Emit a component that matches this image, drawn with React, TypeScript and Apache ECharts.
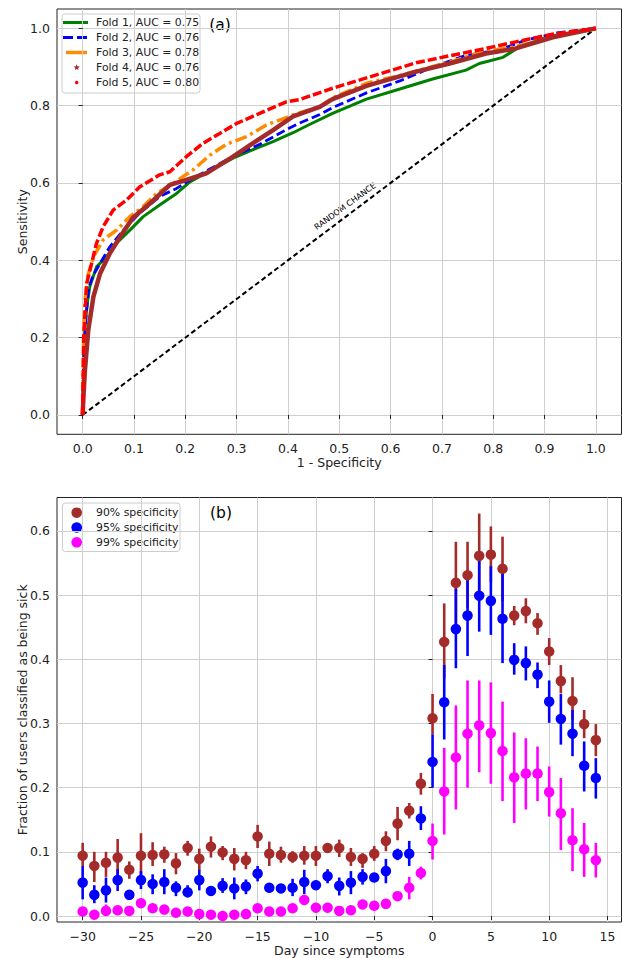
import React, { useEffect, useRef } from 'react';
import * as echarts from 'echarts';

// ---------- Panel (a): ROC curves ----------
const FOLD_NAMES = [
  'Fold 1, AUC = 0.75',
  'Fold 2, AUC = 0.76',
  'Fold 3, AUC = 0.78',
  'Fold 4, AUC = 0.76',
  'Fold 5, AUC = 0.80',
];

const fold1: number[][] = [
  [0, 0], [0.002, 0.12], [0.0045, 0.228], [0.009, 0.29], [0.014, 0.332], [0.027, 0.383],
  [0.047, 0.41], [0.066, 0.444], [0.092, 0.478], [0.118, 0.513], [0.15, 0.543], [0.183, 0.573],
  [0.209, 0.603], [0.248, 0.632], [0.293, 0.664], [0.339, 0.69], [0.371, 0.707], [0.41, 0.73],
  [0.44, 0.75], [0.487, 0.78], [0.553, 0.817], [0.618, 0.843], [0.682, 0.869], [0.747, 0.892],
  [0.773, 0.909], [0.819, 0.925], [0.851, 0.952], [0.909, 0.979], [1, 1],
];
const fold2: number[][] = [
  [0, 0], [0.002, 0.15], [0.0065, 0.254], [0.012, 0.33], [0.02, 0.36], [0.034, 0.392],
  [0.053, 0.435], [0.079, 0.478], [0.111, 0.522], [0.15, 0.565], [0.183, 0.586], [0.215, 0.612],
  [0.248, 0.636], [0.293, 0.668], [0.345, 0.7], [0.397, 0.738], [0.423, 0.755], [0.462, 0.777],
  [0.487, 0.795], [0.553, 0.833], [0.618, 0.864], [0.682, 0.9], [0.747, 0.93], [0.812, 0.944],
  [0.864, 0.97], [0.928, 0.989], [1, 1],
];
const fold3: number[][] = [
  [0, 0], [0.002, 0.2], [0.0045, 0.297], [0.01, 0.36], [0.021, 0.409], [0.04, 0.453],
  [0.066, 0.478], [0.092, 0.513], [0.118, 0.539], [0.144, 0.573], [0.176, 0.599], [0.215, 0.634],
  [0.248, 0.672], [0.28, 0.7], [0.319, 0.72], [0.358, 0.75], [0.41, 0.776], [0.462, 0.797],
  [0.487, 0.82], [0.553, 0.858], [0.618, 0.878], [0.715, 0.913], [0.779, 0.939], [0.844, 0.953],
  [0.916, 0.978], [1, 1],
];
const fold4: number[][] = [
  [0, 0], [0.002, 0.06], [0.0045, 0.116], [0.011, 0.22], [0.021, 0.306], [0.034, 0.366],
  [0.053, 0.418], [0.073, 0.461], [0.098, 0.51], [0.131, 0.547], [0.17, 0.595], [0.202, 0.608],
  [0.241, 0.625], [0.293, 0.668], [0.332, 0.703], [0.371, 0.737], [0.41, 0.772], [0.462, 0.797],
  [0.487, 0.817], [0.553, 0.851], [0.65, 0.888], [0.715, 0.909], [0.786, 0.935], [0.844, 0.948],
  [0.916, 0.977], [1, 1],
];
const fold5: number[][] = [
  [0, 0], [0.002, 0.2], [0.0078, 0.34], [0.0175, 0.392], [0.027, 0.444], [0.04, 0.487],
  [0.0595, 0.53], [0.0856, 0.556], [0.1115, 0.59], [0.15, 0.621], [0.17, 0.629], [0.202, 0.668],
  [0.235, 0.703], [0.267, 0.728], [0.3, 0.754], [0.345, 0.78], [0.397, 0.81], [0.423, 0.816],
  [0.487, 0.845], [0.571, 0.879], [0.65, 0.911], [0.708, 0.927], [0.786, 0.948], [0.844, 0.965],
  [0.916, 0.985], [1, 1],
];
const CHANCE_LINE: number[][] = [[0, 0], [1, 1]];
const ROC_X_TICKS = [0, 0.1, 0.2, 0.3, 0.4, 0.5, 0.6, 0.7, 0.8, 0.9, 1.0];
const ROC_Y_TICKS = [0, 0.2, 0.4, 0.6, 0.8, 1.0];

// ---------- Panel (b): fraction classified as sick ----------
const SPEC_NAMES = ['90% specificity', '95% specificity', '99% specificity'];
const DAYS = [
  -30, -29, -28, -27, -26, -25, -24, -23, -22, -21, -20, -19, -18, -17, -16,
  -15, -14, -13, -12, -11, -10, -9, -8, -7, -6, -5, -4, -3, -2, -1,
  0, 1, 2, 3, 4, 5, 6, 7, 8, 9, 10, 11, 12, 13, 14,
];
const DAY_TICKS = [-30, -25, -20, -15, -10, -5, 0, 5, 10, 15];
const FRAC_TICKS = [0, 0.1, 0.2, 0.3, 0.4, 0.5, 0.6];

const mean90 = [
  0.094, 0.078, 0.083, 0.091, 0.072, 0.094, 0.095, 0.096, 0.082, 0.106, 0.089, 0.108, 0.099, 0.089, 0.087,
  0.124, 0.097, 0.095, 0.092, 0.094, 0.094, 0.106, 0.106, 0.092, 0.089, 0.097, 0.117, 0.144, 0.164, 0.206,
  0.308, 0.427, 0.519, 0.531, 0.561, 0.563, 0.541, 0.468, 0.475, 0.456, 0.412, 0.366, 0.335, 0.299, 0.274,
];
const low90 = [
  0.078, 0.053, 0.061, 0.062, 0.058, 0.061, 0.078, 0.083, 0.065, 0.094, 0.071, 0.091, 0.087, 0.071, 0.073,
  0.106, 0.078, 0.083, 0.083, 0.08, 0.078, 0.1, 0.092, 0.078, 0.075, 0.086, 0.101, 0.118, 0.152, 0.189,
  0.283, 0.37, 0.455, 0.48, 0.5, 0.52, 0.49, 0.453, 0.456, 0.438, 0.391, 0.347, 0.306, 0.277, 0.249,
];
const high90 = [
  0.114, 0.1, 0.1, 0.12, 0.085, 0.129, 0.115, 0.108, 0.098, 0.117, 0.105, 0.124, 0.109, 0.106, 0.1,
  0.142, 0.116, 0.108, 0.101, 0.109, 0.109, 0.112, 0.119, 0.106, 0.098, 0.109, 0.132, 0.17, 0.176, 0.223,
  0.346, 0.487, 0.583, 0.583, 0.627, 0.607, 0.591, 0.483, 0.495, 0.472, 0.433, 0.391, 0.372, 0.321, 0.299,
];
const mean95 = [
  0.052, 0.033, 0.04, 0.056, 0.033, 0.056, 0.05, 0.053, 0.044, 0.037, 0.056, 0.039, 0.047, 0.043, 0.046,
  0.066, 0.044, 0.043, 0.044, 0.053, 0.048, 0.062, 0.047, 0.052, 0.061, 0.06, 0.07, 0.096, 0.097, 0.152,
  0.24, 0.333, 0.447, 0.468, 0.499, 0.491, 0.463, 0.399, 0.394, 0.376, 0.334, 0.307, 0.284, 0.234, 0.215,
];
const low95 = [
  0.026, 0.02, 0.021, 0.039, 0.027, 0.042, 0.034, 0.034, 0.031, 0.029, 0.04, 0.033, 0.036, 0.026, 0.034,
  0.054, 0.037, 0.036, 0.031, 0.034, 0.041, 0.051, 0.032, 0.034, 0.049, 0.053, 0.051, 0.087, 0.078, 0.134,
  0.2, 0.275, 0.386, 0.405, 0.443, 0.438, 0.394, 0.376, 0.367, 0.355, 0.301, 0.267, 0.249, 0.194, 0.183,
];
const high95 = [
  0.078, 0.048, 0.06, 0.073, 0.04, 0.07, 0.065, 0.073, 0.054, 0.048, 0.072, 0.046, 0.059, 0.06, 0.057,
  0.078, 0.05, 0.049, 0.058, 0.072, 0.055, 0.073, 0.06, 0.07, 0.073, 0.067, 0.089, 0.105, 0.117, 0.171,
  0.283, 0.391, 0.51, 0.526, 0.555, 0.545, 0.534, 0.425, 0.42, 0.395, 0.367, 0.346, 0.321, 0.272, 0.246,
];
const mean99 = [
  0.007, 0.002, 0.008, 0.009, 0.008, 0.02, 0.012, 0.01, 0.005, 0.007, 0.003, 0.002, 0.0, 0.002, 0.003,
  0.012, 0.007, 0.007, 0.012, 0.025, 0.013, 0.013, 0.008, 0.009, 0.018, 0.016, 0.019, 0.031, 0.044, 0.067,
  0.117, 0.194, 0.247, 0.284, 0.297, 0.285, 0.257, 0.216, 0.222, 0.222, 0.193, 0.16, 0.118, 0.104, 0.087,
];
const low99 = [
  0.0, 0.0, 0.0, 0.004, 0.004, 0.014, 0.007, 0.005, 0.001, 0.002, 0.0, 0.0, 0.0, 0.0, 0.0,
  0.007, 0.003, 0.003, 0.007, 0.018, 0.008, 0.008, 0.003, 0.004, 0.012, 0.01, 0.013, 0.024, 0.026, 0.057,
  0.088, 0.127, 0.166, 0.2, 0.224, 0.206, 0.179, 0.145, 0.166, 0.179, 0.155, 0.103, 0.07, 0.061, 0.06,
];
const high99 = [
  0.013, 0.006, 0.018, 0.014, 0.012, 0.026, 0.017, 0.015, 0.009, 0.012, 0.006, 0.005, 0.003, 0.005, 0.006,
  0.017, 0.011, 0.011, 0.017, 0.032, 0.018, 0.018, 0.013, 0.014, 0.024, 0.022, 0.025, 0.038, 0.061, 0.077,
  0.144, 0.262, 0.328, 0.367, 0.367, 0.364, 0.334, 0.286, 0.277, 0.264, 0.233, 0.215, 0.168, 0.145, 0.114,
];

const FONT = 'DejaVu Sans';
const TXT = '#222222';

function starPoints(cx: number, cy: number, R: number, r: number): number[][] {
  const pts: number[][] = [];
  for (let i = 0; i < 10; i++) {
    const a = -Math.PI / 2 + (i * Math.PI) / 5;
    const rr = i % 2 === 0 ? R : r;
    pts.push([cx + rr * Math.cos(a), cy + rr * Math.sin(a)]);
  }
  return pts;
}

function axisBase(ticks: number[], fmt: (v: number) => string, margin: number) {
  return {
    axisLine: { show: false },
    axisTick: { show: true, customValues: ticks, length: 4, lineStyle: { color: TXT, width: 1 } },
    axisLabel: { customValues: ticks, formatter: fmt, fontSize: 12.5, color: TXT, fontFamily: FONT, margin },
    splitLine: { show: true, lineStyle: { color: '#cfcfcf', width: 1 } },
    nameTextStyle: { fontSize: 12.5, color: TXT, fontFamily: FONT },
    nameLocation: 'middle' as const,
    nameMoveOverlap: false,
  };
}

const fmt1 = (v: number) => v.toFixed(1);
const fmtDay = (v: number) => (v < 0 ? '\u2212' + Math.abs(v) : String(v));

function errSeries(lo: number[], hi: number[], color: string) {
  return {
    type: 'custom',
    xAxisIndex: 1,
    yAxisIndex: 1,
    silent: true,
    data: DAYS.map((d, i) => [d, lo[i], hi[i]]),
    encode: { x: 0, y: [1, 2] },
    renderItem: (_p: any, api: any) => {
      const a = api.coord([api.value(0), api.value(1)]);
      const b = api.coord([api.value(0), api.value(2)]);
      return {
        type: 'line',
        shape: { x1: a[0], y1: a[1], x2: b[0], y2: b[1] },
        style: { stroke: color, lineWidth: 2.6 },
      };
    },
  };
}

function dotSeries(name: string, mean: number[], color: string) {
  return {
    type: 'scatter',
    name,
    xAxisIndex: 1,
    yAxisIndex: 1,
    data: DAYS.map((d, i) => [d, mean[i]]),
    symbol: 'circle',
    symbolSize: 10.5,
    itemStyle: { color, opacity: 1 },
  };
}

export default function App() {
  const ref = useRef<HTMLDivElement>(null);
  useEffect(() => {
    if (!ref.current) return;
    const chart = echarts.init(ref.current, undefined, { renderer: 'svg' });

    const foldColors = ['#008000', '#0000ff', '#ff8c00', '#a52a2a', '#ff0000'];
    const rowY = (i: number) => 22.5 + i * 15;
    const legendA: any[] = [
      {
        type: 'rect',
        shape: { x: 62, y: 14, width: 138, height: 79, r: 3 },
        style: { fill: 'rgba(255,255,255,0.85)', stroke: '#cccccc', lineWidth: 1 },
      },
      { type: 'line', shape: { x1: 63, y1: rowY(0), x2: 88, y2: rowY(0) }, style: { stroke: foldColors[0], lineWidth: 3 } },
      { type: 'line', shape: { x1: 63, y1: rowY(1), x2: 88, y2: rowY(1) }, style: { stroke: foldColors[1], lineWidth: 2.8, lineDash: [10, 4] } },
      { type: 'line', shape: { x1: 66, y1: rowY(2), x2: 87, y2: rowY(2) }, style: { stroke: foldColors[2], lineWidth: 3.5 } },
      { type: 'polygon', shape: { points: starPoints(76.7, rowY(3), 3.2, 1.4) }, style: { fill: foldColors[3] } },
      { type: 'circle', shape: { cx: 76.7, cy: rowY(4), r: 1.8 }, style: { fill: foldColors[4] } },
      ...FOLD_NAMES.map((n, i) => ({
        type: 'text',
        x: 96,
        y: rowY(i),
        style: { text: n, fontSize: 10.9, fontFamily: FONT, fill: TXT, verticalAlign: 'middle', align: 'left' },
      })),
    ];

    const specColors = ['#a52a2a', '#0000ff', '#ff00ff'];
    const rowYb = (i: number) => 512.7 + i * 14.8;
    const legendB: any[] = [
      {
        type: 'rect',
        shape: { x: 62.5, y: 503, width: 117.5, height: 48.5, r: 3 },
        style: { fill: 'rgba(255,255,255,0.85)', stroke: '#cccccc', lineWidth: 1 },
      },
      ...SPEC_NAMES.map((_n, i) => ({
        type: 'circle',
        shape: { cx: 76.7, cy: rowYb(i), r: 5.3 },
        style: { fill: specColors[i] },
      })),
      ...SPEC_NAMES.map((n, i) => ({
        type: 'text',
        x: 96,
        y: rowYb(i),
        style: { text: n, fontSize: 10.9, fontFamily: FONT, fill: TXT, verticalAlign: 'middle', align: 'left' },
      })),
    ];

    const option: any = {
      animation: false,
      backgroundColor: '#ffffff',
      textStyle: { fontFamily: FONT },
      grid: [
        { left: 57, top: 9, width: 564.5, height: 425.3, show: true, borderColor: TXT, borderWidth: 1, backgroundColor: 'transparent' },
        { left: 57, top: 497.5, width: 564.5, height: 425.2, show: true, borderColor: TXT, borderWidth: 1, backgroundColor: 'transparent' },
      ],
      xAxis: [
        { ...axisBase(ROC_X_TICKS, fmt1, 8), type: 'value', gridIndex: 0, min: -0.05, max: 1.05, name: '1 - Specificity', nameGap: 22 },
        { ...axisBase(DAY_TICKS, fmtDay, 8), type: 'value', gridIndex: 1, min: -32.2, max: 16.2, name: 'Day since symptoms', nameGap: 22 },
      ],
      yAxis: [
        { ...axisBase(ROC_Y_TICKS, fmt1, 7), type: 'value', gridIndex: 0, min: -0.05, max: 1.05, name: 'Sensitivity', nameGap: 28 },
        { ...axisBase(FRAC_TICKS, fmt1, 7), type: 'value', gridIndex: 1, min: -0.0093, max: 0.652, name: 'Fraction of users classified as being sick', nameGap: 28 },
      ],
      series: [
        {
          type: 'line', xAxisIndex: 0, yAxisIndex: 0, data: CHANCE_LINE, symbol: 'none', silent: true,
          lineStyle: { color: '#000000', width: 2, type: [5, 3] },
        },
        {
          type: 'line', name: FOLD_NAMES[0], xAxisIndex: 0, yAxisIndex: 0, data: fold1, symbol: 'none',
          lineStyle: { color: foldColors[0], width: 3 },
        },
        {
          type: 'line', name: FOLD_NAMES[1], xAxisIndex: 0, yAxisIndex: 0, data: fold2, symbol: 'none',
          lineStyle: { color: foldColors[1], width: 2.8, type: [9, 4] },
        },
        {
          type: 'line', name: FOLD_NAMES[2], xAxisIndex: 0, yAxisIndex: 0, data: fold3, symbol: 'none',
          lineStyle: { color: foldColors[2], width: 3.5, type: [12, 4, 3, 4] },
        },
        {
          type: 'line', name: FOLD_NAMES[3], xAxisIndex: 0, yAxisIndex: 0, data: fold4, symbol: 'none',
          lineStyle: { color: foldColors[3], width: 4.5 },
        },
        {
          type: 'line', name: FOLD_NAMES[4], xAxisIndex: 0, yAxisIndex: 0, data: fold5, symbol: 'none',
          lineStyle: { color: foldColors[4], width: 3.5, type: [9, 3] },
        },
        errSeries(low90, high90, specColors[0]),
        dotSeries(SPEC_NAMES[0], mean90, specColors[0]),
        errSeries(low95, high95, specColors[1]),
        dotSeries(SPEC_NAMES[1], mean95, specColors[1]),
        errSeries(low99, high99, specColors[2]),
        dotSeries(SPEC_NAMES[2], mean99, specColors[2]),
      ],
      graphic: [
        ...legendA,
        ...legendB,
        {
          type: 'text', x: 220, y: 25,
          style: { text: '(a)', fontSize: 15.5, fontFamily: FONT, fill: '#000', align: 'center', verticalAlign: 'middle' },
        },
        {
          type: 'text', x: 221, y: 513,
          style: { text: '(b)', fontSize: 15.5, fontFamily: FONT, fill: '#000', align: 'center', verticalAlign: 'middle' },
        },
        {
          type: 'text', x: 345, y: 206, rotation: (36 * Math.PI) / 180,
          style: { text: 'RANDOM CHANCE', fontSize: 8.2, fontFamily: FONT, fill: '#000', align: 'center', verticalAlign: 'middle' },
        },
      ],
    };
    chart.setOption(option);
    return () => chart.dispose();
  }, []);
  return <div ref={ref} style={{ position: 'absolute', left: 0, top: 0, width: 622, height: 958 }} />;
}
